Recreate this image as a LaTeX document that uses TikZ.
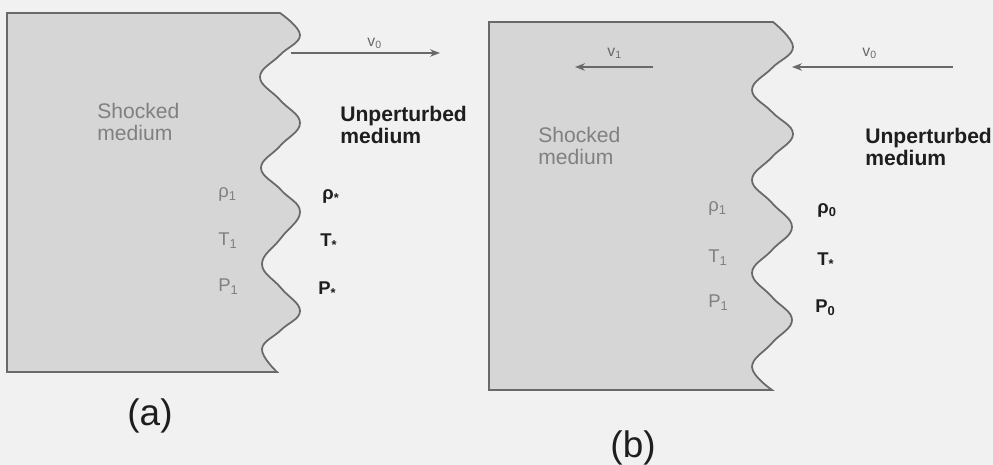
\documentclass[tikz,border=0pt]{standalone}
\usepackage{fontspec}
\setmainfont{Liberation Sans}
\usetikzlibrary{arrows.meta}
\definecolor{scanbg}{RGB}{241,241,241}
\definecolor{shockfill}{RGB}{214,214,214}
\definecolor{edgegray}{RGB}{105,105,105}
\definecolor{softtext}{RGB}{128,128,128}
\definecolor{darktext}{RGB}{30,30,30}
\tikzset{
  medium/.style={draw=edgegray, line width=1pt, fill=shockfill},
  lbl/.style={align=left, anchor=north west, inner sep=0pt, font=\fontsize{12}{12.5}\selectfont},
  qty/.style={anchor=base west, inner sep=0pt, font=\fontsize{10.5}{12}\selectfont},
  vel/.style={anchor=base west, inner sep=0pt, text=edgegray, font=\fontsize{9}{10}\selectfont},
  arr/.style={-{Stealth[length=2mm, width=1.5mm]}, line width=0.8pt, draw=edgegray},
  tag/.style={inner sep=0pt, text=darktext, font=\fontsize{21}{24}\selectfont},
}
\begin{document}
\begin{tikzpicture}[x=0.02cm, y=-0.02cm]
  \fill[scanbg] (0,0) rectangle (993,465);
  \useasboundingbox (0,0) rectangle (993,465);

  % (a)
  \draw[medium] (7,372) -- (7,13) -- (280,13) -- plot[smooth, tension=0.7] coordinates {
    (280,13) (300,35) (280,55) (260,77) (280,100) (300,123) (280,146) (261,168)
    (281,190) (300,212) (281,238) (262,264) (281,288) (300,311) (281,330) (262,349) (277,372)} -- cycle;
  \node[lbl, text=softtext] (shockA) at (97,103) {Shocked\\medium};
  \node[lbl, text=darktext, font=\fontsize{12}{12.5}\selectfont\bfseries] (unpertA) at (340,106) {Unperturbed\\medium};
  \node[qty, text=softtext] (rhoA1) at (218,198) {ρ\textsubscript{1}};
  \node[qty, text=softtext] (TA1) at (218,246) {T\textsubscript{1}};
  \node[qty, text=softtext] (PA1) at (218,292) {P\textsubscript{1}};
  \node[qty, text=darktext, font=\fontsize{10.5}{12}\selectfont\bfseries] (rhoAs) at (322,200) {ρ\textsubscript{*}};
  \node[qty, text=darktext, font=\fontsize{10.5}{12}\selectfont\bfseries] (TAs) at (320,247) {T\textsubscript{*}};
  \node[qty, text=darktext, font=\fontsize{10.5}{12}\selectfont\bfseries] (PAs) at (318,295) {P\textsubscript{*}};
  \coordinate (frontA) at (291,53);
  \coordinate (tipA) at (440,53);
  \draw[arr] (frontA) -- (tipA);
  \node[vel] (vA) at (367,47) {v\textsubscript{0}};
  \node[tag] (tagA) at (150,416) {(a)};

  % (b)
  \draw[medium] (489,390) -- (489,22) -- (773,22) -- plot[smooth, tension=0.7] coordinates {
    (773,22) (793,47) (772,68) (752,90) (772,112) (793,134) (772,157) (752,180)
    (772,203) (792,227) (772,250) (752,273) (772,297) (792,320) (772,343) (752,367) (772,390)} -- cycle;
  \node[lbl, text=softtext] (shockB) at (538,127) {Shocked\\medium};
  \node[lbl, text=darktext, font=\fontsize{12}{12.5}\selectfont\bfseries] (unpertB) at (865,128) {Unperturbed\\medium};
  \node[qty, text=softtext] (rhoB1) at (708,212) {ρ\textsubscript{1}};
  \node[qty, text=softtext] (TB1) at (708,263) {T\textsubscript{1}};
  \node[qty, text=softtext] (PB1) at (708,308) {P\textsubscript{1}};
  \node[qty, text=darktext, font=\fontsize{10.5}{12}\selectfont\bfseries] (rhoB0) at (817,214) {ρ\textsubscript{0}};
  \node[qty, text=darktext, font=\fontsize{10.5}{12}\selectfont\bfseries] (TBs) at (817,266) {T\textsubscript{*}};
  \node[qty, text=darktext, font=\fontsize{10.5}{12}\selectfont\bfseries] (PB0) at (815,313) {P\textsubscript{0}};
  \coordinate (backB) at (653,67);
  \coordinate (tipB1) at (575,67);
  \draw[arr] (backB) -- (tipB1);
  \node[vel] (vB1) at (607,57) {v\textsubscript{1}};
  \coordinate (farB) at (953,67);
  \coordinate (frontB) at (792,67);
  \draw[arr] (farB) -- (frontB);
  \node[vel] (vB0) at (862,57) {v\textsubscript{0}};
  \node[tag] (tagB) at (633,448) {(b)};
\end{tikzpicture}
\end{document}
